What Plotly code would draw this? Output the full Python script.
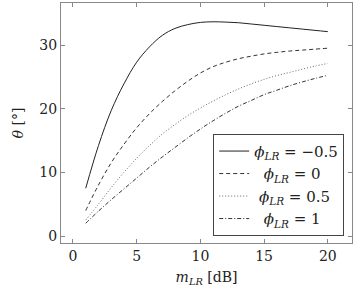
import plotly.graph_objects as go

m_lr = list(range(1, 21))
theta_m05 = [7.5, 14.2, 19.7, 23.9, 27.3, 29.7, 31.5, 32.6, 33.2, 33.55,
             33.65, 33.6, 33.5, 33.3, 33.1, 32.9, 32.7, 32.5, 32.3, 32.1]
theta_0 = [4.0, 8.0, 11.5, 14.4, 17.0, 19.2, 21.1, 22.8, 24.3, 25.6,
           26.6, 27.3, 27.85, 28.25, 28.6, 28.85, 29.05, 29.2, 29.35, 29.5]
theta_05 = [2.5, 5.0, 7.6, 10.0, 12.2, 14.2, 16.0, 17.5, 18.9, 20.1,
            21.2, 22.2, 23.1, 23.9, 24.6, 25.2, 25.7, 26.2, 26.7, 27.1]
theta_1 = [2.0, 3.9, 5.7, 7.4, 9.1, 10.8, 12.4, 13.9, 15.4, 16.8,
           18.1, 19.3, 20.4, 21.3, 22.2, 22.9, 23.6, 24.2, 24.75, 25.25]

series_names = ["<i>ϕ</i><sub><i>LR</i></sub> = −0.5",
                "  <i>ϕ</i><sub><i>LR</i></sub> = 0",
                " <i>ϕ</i><sub><i>LR</i></sub> = 0.5",
                "  <i>ϕ</i><sub><i>LR</i></sub> = 1"]
x_ticks = [0, 5, 10, 15, 20]
y_ticks = [0, 10, 20, 30]

dashes = ["solid", "4px,3px", "1px,2px", "4px,2px,1px,2px"]
colors = ["#222222", "#333333", "#666666", "#333333"]

fig = go.Figure()
for ys, name, d, c in zip([theta_m05, theta_0, theta_05, theta_1], series_names, dashes, colors):
    fig.add_trace(go.Scatter(x=m_lr, y=ys, mode="lines", name=name,
                             line=dict(color=c, width=1, dash=d, shape="spline")))

font = "DejaVu Serif"
fig.update_layout(
    width=355, height=290,
    margin=dict(l=61, r=3, t=3, b=47),
    paper_bgcolor="white", plot_bgcolor="white",
    font=dict(family=font, size=14, color="#222222"),
    showlegend=True,
    legend=dict(x=0.523, y=0.03, xanchor="left", yanchor="bottom",
                bgcolor="white", bordercolor="#444444", borderwidth=1,
                font=dict(family=font, size=15, color="#222222"),
                tracegroupgap=0, itemwidth=30),
)
fig.update_xaxes(range=[-0.94, 21.9], tickvals=x_ticks, ticks="inside", ticklen=4,
                 tickcolor="#888888", showline=True, linecolor="#888888", linewidth=1,
                 mirror="ticks", showgrid=False, zeroline=False,
                 title=dict(text="<i>m</i><sub><i>LR</i></sub> [dB]", standoff=9,
                            font=dict(family=font, size=14)))
fig.update_yaxes(range=[-1.1, 36.6], tickvals=y_ticks, ticks="inside", ticklen=4,
                 tickcolor="#888888", showline=True, linecolor="#888888", linewidth=1,
                 mirror="ticks", showgrid=False, zeroline=False,
                 title=dict(text="<i>θ</i> [°]", standoff=12,
                            font=dict(family=font, size=14)))

fig.write_html("out.html")
